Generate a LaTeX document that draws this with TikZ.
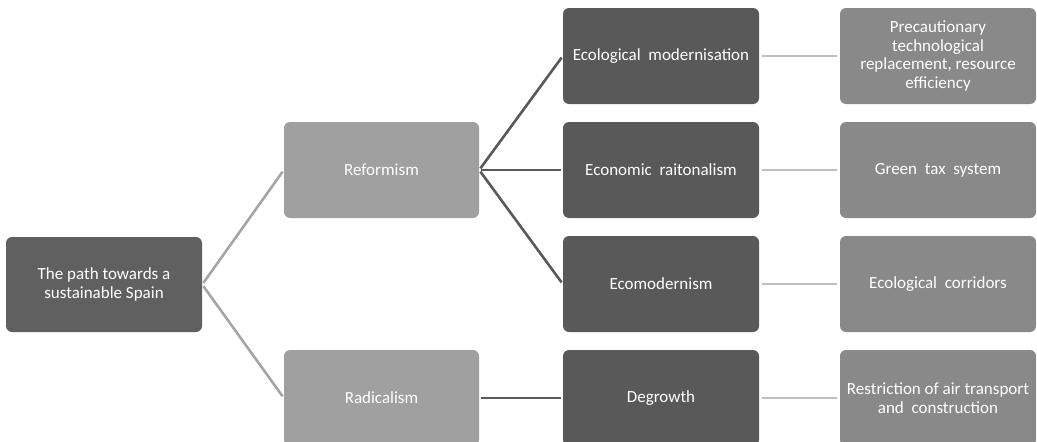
\documentclass[tikz,border=0pt]{standalone}
\usepackage{fontspec}
\setmainfont{Carlito}
\definecolor{rootc}{RGB}{96,96,96}
\definecolor{midc}{RGB}{160,160,160}
\definecolor{darkc}{RGB}{89,89,89}
\definecolor{leafc}{RGB}{137,137,137}
\definecolor{lineA}{RGB}{165,165,165}
\definecolor{lineB}{RGB}{89,89,89}
\definecolor{lineC}{RGB}{191,191,191}
\begin{document}
\begin{tikzpicture}[x=1pt,y=-1pt,
  box/.style={rounded corners=6pt, minimum width=196pt, minimum height=96pt,
    text=white, align=center, inner sep=0pt,
    font=\fontsize{17}{18.5}\selectfont},
  rootbox/.style={box, fill=rootc, minimum height=95pt},
  midbox/.style={box, fill=midc, minimum width=195pt},
  darkbox/.style={box, fill=darkc},
  leafbox/.style={box, fill=leafc},
  linkA/.style={draw=lineA, line width=2.6pt, shorten <=2pt, shorten >=2pt},
  linkB/.style={draw=lineB, line width=2.6pt, shorten <=2pt, shorten >=2pt},
  linkC/.style={draw=lineC, line width=2.6pt, shorten <=3pt, shorten >=3pt}]
\useasboundingbox (0,0) rectangle (1037,442);
\node[rootbox] (root) at (104,284.5) {The path towards a\\sustainable Spain};
\node[midbox] (ref) at (381.5,170) {Reformism};
\node[midbox] (rad) at (381.5,398) {Radicalism};
\node[darkbox] (eco1) at (661,56) {Ecological\ \ modernisation};
\node[darkbox] (eco2) at (661,170) {\raisebox{-3pt}{Economic\ \ raitonalism}};
\node[darkbox] (eco3) at (661,284) {Ecomodernism};
\node[darkbox] (deg) at (661,398) {Degrowth};
\node[leafbox] (l1) at (938,56) {Precautionary\\technological\\replacement, resource\\efficiency};
\node[leafbox] (l2) at (938,170) {\raisebox{-3pt}{Green\ \ tax\ \ system}};
\node[leafbox] (l3) at (938,284) {Ecological\ \ corridors};
\node[leafbox] (l4) at (938,398) {Restriction of air transport\\and\ \ construction};
\draw[linkA] (root.east) -- (ref.west);
\draw[linkA] (root.east) -- (rad.west);
\draw[linkB] (ref.east) -- (eco1.west);
\draw[linkB] (ref.east) -- (eco2.west);
\draw[linkB] (ref.east) -- (eco3.west);
\draw[linkB] (rad.east) -- (deg.west);
\draw[linkC] (eco1.east) -- (l1.west);
\draw[linkC] (eco2.east) -- (l2.west);
\draw[linkC] (eco3.east) -- (l3.west);
\draw[linkC] (deg.east) -- (l4.west);
\end{tikzpicture}
\end{document}
